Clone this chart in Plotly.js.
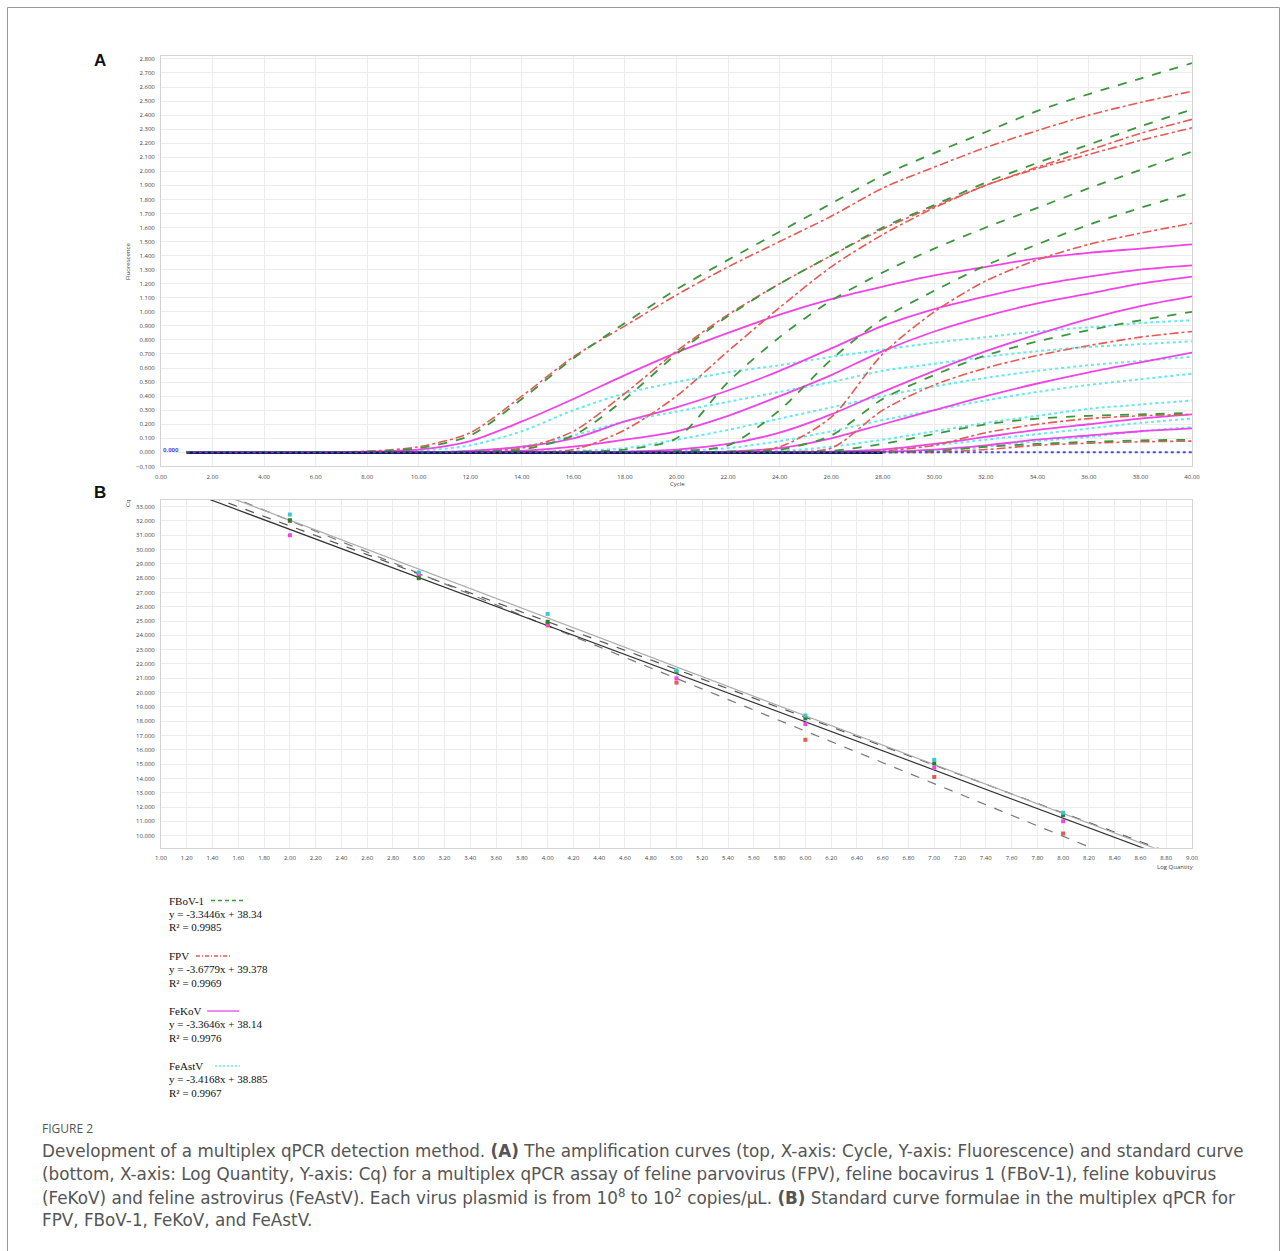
<!DOCTYPE html>
<html><head><meta charset="utf-8">
<script src="https://cdn.plot.ly/plotly-3.0.1.min.js"></script>
<style>html,body{margin:0;padding:0;background:#fff}#chart{width:1287px;height:1251px}</style>
</head><body><div id="chart"></div>
<script>
// ---------- Panel A: amplification curves ----------
const cycles = [1,4,8,10,12,14,16,18,20,22,24,26,28,30,32,34,36,38,40];

const fbovCurves = [
  [0,0,0.005,0.03,0.12,0.38,0.67,0.92,1.16,1.37,1.57,1.77,1.97,2.13,2.28,2.43,2.55,2.66,2.77],
  [0,0,0,0,0.005,0.02,0.12,0.38,0.70,0.97,1.20,1.40,1.60,1.76,1.92,2.06,2.19,2.32,2.44],
  [0,0,0,0,0,0,0.005,0.02,0.10,0.50,0.82,1.08,1.28,1.45,1.60,1.74,1.88,2.01,2.14],
  [0,0,0,0,0,0,0,0,0.01,0.05,0.30,0.66,0.95,1.15,1.33,1.48,1.62,1.74,1.85],
  [0,0,0,0,0,0,0,0,0,0.005,0.02,0.12,0.38,0.55,0.69,0.79,0.87,0.94,1.00],
  [0,0,0,0,0,0,0,0,0,0,0,0.01,0.06,0.13,0.20,0.24,0.26,0.27,0.28],
  [0,0,0,0,0,0,0,0,0,0,0,0,0,0.01,0.04,0.06,0.075,0.085,0.09]
];
const fpvCurves = [
  [0,0,0.008,0.04,0.14,0.40,0.68,0.90,1.12,1.32,1.50,1.68,1.88,2.03,2.17,2.29,2.40,2.49,2.57],
  [0,0,0,0,0.005,0.03,0.15,0.42,0.72,0.98,1.20,1.40,1.59,1.75,1.90,2.03,2.15,2.27,2.37],
  [0,0,0,0,0,0.005,0.02,0.16,0.40,0.72,1.03,1.32,1.55,1.74,1.90,2.02,2.12,2.22,2.31],
  [0,0,0,0,0,0,0,0,0,0.005,0.04,0.25,0.70,1.00,1.22,1.37,1.48,1.56,1.63],
  [0,0,0,0,0,0,0,0,0,0,0.005,0.03,0.30,0.48,0.60,0.69,0.76,0.82,0.86],
  [0,0,0,0,0,0,0,0,0,0,0,0,0.01,0.05,0.14,0.20,0.24,0.26,0.27],
  [0,0,0,0,0,0,0,0,0,0,0,0,0,0,0.02,0.05,0.065,0.075,0.08]
];
const fekovCurves = [
  [0,0,0.005,0.02,0.08,0.22,0.38,0.55,0.71,0.85,0.98,1.09,1.18,1.26,1.32,1.38,1.42,1.45,1.48],
  [0,0,0,0,0.01,0.04,0.10,0.22,0.32,0.44,0.58,0.74,0.90,1.02,1.11,1.19,1.25,1.30,1.33],
  [0,0,0,0,0,0.01,0.04,0.09,0.15,0.26,0.40,0.55,0.72,0.86,0.97,1.06,1.13,1.20,1.25],
  [0,0,0,0,0,0,0,0.005,0.02,0.06,0.14,0.27,0.43,0.58,0.72,0.84,0.95,1.04,1.11],
  [0,0,0,0,0,0,0,0,0,0.005,0.03,0.10,0.20,0.30,0.40,0.49,0.57,0.64,0.71],
  [0,0,0,0,0,0,0,0,0,0,0,0.005,0.02,0.06,0.11,0.16,0.20,0.24,0.27],
  [0,0,0,0,0,0,0,0,0,0,0,0,0.005,0.02,0.05,0.09,0.12,0.15,0.17]
];
const feastvCurves = [
  [0,0,0,0.01,0.05,0.15,0.30,0.42,0.50,0.57,0.62,0.68,0.73,0.78,0.82,0.86,0.89,0.92,0.94],
  [0,0,0,0,0.01,0.04,0.12,0.22,0.29,0.36,0.43,0.50,0.58,0.63,0.68,0.72,0.75,0.77,0.79],
  [0,0,0,0,0,0.005,0.01,0.03,0.09,0.16,0.24,0.32,0.40,0.47,0.53,0.58,0.62,0.65,0.68],
  [0,0,0,0,0,0,0,0.005,0.01,0.03,0.08,0.15,0.23,0.30,0.37,0.43,0.48,0.52,0.56],
  [0,0,0,0,0,0,0,0,0,0.005,0.01,0.04,0.09,0.15,0.21,0.26,0.31,0.34,0.37],
  [0,0,0,0,0,0,0,0,0,0,0,0.005,0.02,0.05,0.09,0.13,0.17,0.21,0.24],
  [0,0,0,0,0,0,0,0,0,0,0,0,0.005,0.01,0.04,0.08,0.11,0.15,0.18]
];
const thresholdCycles = [1,40];
const thresholdValues = [0,0];
const ntcCycles = [1,28];
const ntcValues = [-0.003,-0.003];

// ---------- Panel B: standard curves ----------
const logQty = [2,3,4,5,6,7,8];
const fbovCq  = [32.05,28.00,24.95,21.45,18.20,15.05,11.45];
const fpvCq   = [32.00,28.20,24.70,20.70,16.70,14.10,10.15];
const fekovCq = [31.00,28.30,24.80,21.00,17.80,14.75,11.00];
const feastvCq= [32.45,28.40,25.50,21.55,18.40,15.30,11.60];
const viruses = ['FBoV-1','FPV','FeKoV','FeAstV'];
const slopes = [-3.3446,-3.6779,-3.3646,-3.4168];
const intercepts = [38.34,39.378,38.14,38.885];
const r2 = ['0.9985','0.9969','0.9976','0.9967'];
const fitX = [1,9];

// ---------- styling ----------
const W = 1287, H = 1251;
const px = v => v / W, py = v => 1 - v / H;
const colors = {green:'#3c963c', red:'#e65a55', pink:'#f044e6', cyan:'#62eaee'};
const traces = [];

function addCurves(set, color, dash, width){
  set.forEach((ys,i)=>traces.push({
    x: cycles, y: ys, type:'scatter', mode:'lines', xaxis:'x', yaxis:'y',
    line:{color:color, dash:dash, width:width, shape:'spline', smoothing:0.8},
    hoverinfo:'skip', showlegend:false
  }));
}
addCurves(feastvCurves, colors.cyan, 'dot', 2);
addCurves(fekovCurves, colors.pink, 'solid', 1.8);
addCurves(fpvCurves, colors.red, 'dashdot', 1.6);
addCurves(fbovCurves, colors.green, 'dash', 1.8);
traces.push({x:ntcCycles, y:ntcValues, type:'scatter', mode:'lines', xaxis:'x', yaxis:'y',
  line:{color:'#1a1a40', width:2.5}, showlegend:false, hoverinfo:'skip'});
traces.push({x:thresholdCycles, y:thresholdValues, type:'scatter', mode:'lines', xaxis:'x', yaxis:'y',
  line:{color:'#4a4af0', width:2, dash:'dot'}, showlegend:false, hoverinfo:'skip'});

// fit lines
const fitStyles = [
  {color:'#555', dash:'dash', width:1.2},
  {color:'#777', dash:'dash', width:1.2},
  {color:'#333', dash:'solid', width:1.2},
  {color:'#aaa', dash:'solid', width:1.2}
];
slopes.forEach((s,i)=>traces.push({
  x: fitX, y: fitX.map(v=>s*v+intercepts[i]), type:'scatter', mode:'lines',
  xaxis:'x2', yaxis:'y2', line:fitStyles[i], showlegend:false, hoverinfo:'skip'
}));
[[fpvCq,colors.red],[fekovCq,colors.pink],[fbovCq,'#2d7d2d'],[feastvCq,'#3cc8cc']].forEach(([cq,c])=>traces.push({
  x: logQty, y: cq, type:'scatter', mode:'markers', xaxis:'x2', yaxis:'y2',
  marker:{color:c, size:4, symbol:'square'}, showlegend:false, hoverinfo:'skip'
}));

const tickFont = {family:'Open Sans, sans-serif', size:6, color:'#444'};
const axBase = {showgrid:true, gridcolor:'#ececec', gridwidth:1, zeroline:false,
  showline:true, mirror:true, linecolor:'#d4d4d4', linewidth:1, ticks:'',
  tickfont:tickFont, fixedrange:true};

const annotations = [];
function txt(x,y,text,opt){
  annotations.push(Object.assign({xref:'paper', yref:'paper', x:px(x), y:py(y), text:text,
    showarrow:false, xanchor:'center', yanchor:'middle'}, opt||{}));
}
const smallFont = {family:'Open Sans, sans-serif', size:6, color:'#444'};
txt(100,60,'<b>A</b>',{font:{family:'Liberation Sans, Arial', size:17, color:'#111'}});
txt(100,492,'<b>B</b>',{font:{family:'Liberation Sans, Arial', size:17, color:'#111'}});
txt(128,262,'Fluorescence',{textangle:-90, font:smallFont});
txt(677,484,'Cycle',{font:smallFont});
txt(128,503,'Cq',{textangle:-90, font:smallFont});
txt(1175,867,'Log Quantity',{font:smallFont});
txt(171,450,'<b>0.000</b>',{font:{family:'Open Sans, sans-serif', size:6, color:'#4a4af0'}});

// legend block
const legY = [900.5, 956, 1011, 1066];
const legColors = [colors.green, colors.red, colors.pink, colors.cyan];
const legDash = ['4px,3px','4px,2px,1px,2px','solid','2px,2px'];
const legStart = [211, 196, 207, 215];
const legEnd = [244, 232, 239, 240];
const serif = {family:'Liberation Serif, Times New Roman, serif', size:11, color:'#111'};
const shapes = [];
viruses.forEach((v,i)=>{
  txt(167, legY[i], v, {xanchor:'left', font:serif});
  txt(167, legY[i]+13, 'y = ' + slopes[i] + 'x + ' + intercepts[i], {xanchor:'left', font:serif});
  txt(167, legY[i]+26.5, 'R² = ' + r2[i], {xanchor:'left', font:serif});
});
viruses.forEach((v,i)=>shapes.push({type:'line', xref:'paper', yref:'paper',
  x0:px(legStart[i]), x1:px(legEnd[i]), y0:py(legY[i]), y1:py(legY[i]),
  line:{color:legColors[i], width:1.3, dash:legDash[i]}}));

// caption
const capFont = {family:'DejaVu Sans, sans-serif', size:16.8, color:'#555'};
txt(40,1128,'FIGURE 2',{xanchor:'left', font:{family:'Open Sans, sans-serif', size:12, color:'#555'}});
const capLines = [
  'Development of a multiplex qPCR detection method. <b>(A)</b> The amplification curves (top, X-axis: Cycle, Y-axis: Fluorescence) and standard curve',
  '(bottom, X-axis: Log Quantity, Y-axis: Cq) for a multiplex qPCR assay of feline parvovirus (FPV), feline bocavirus 1 (FBoV-1), feline kobuvirus',
  '(FeKoV) and feline astrovirus (FeAstV). Each virus plasmid is from 10<sup>8</sup> to 10<sup>2</sup> copies/μL. <b>(B)</b> Standard curve formulae in the multiplex qPCR for',
  'FPV, FBoV-1, FeKoV, and FeAstV.'
];
capLines.forEach((l,i)=>txt(40, 1151+23*i, l, {xanchor:'left', font:capFont}));

// frame
shapes.push({type:'rect', xref:'paper', yref:'paper', x0:px(7.5), x1:px(1279.5), y0:py(1262), y1:py(7.5),
  line:{color:'#9a9a9a', width:1}});

const layout = {
  width:W, height:H, margin:{l:0,r:0,t:0,b:0}, paper_bgcolor:'#fff', plot_bgcolor:'#fff',
  showlegend:false,
  xaxis: Object.assign({}, axBase, {domain:[px(161), px(1192)], range:[0,40], dtick:2, tick0:0,
    tickformat:'.2f', anchor:'y', ticklabelstandoff:4}),
  yaxis: Object.assign({}, axBase, {domain:[py(466.4), py(56.1)], range:[-0.1,2.82], dtick:0.1, tick0:-0.1,
    tickformat:'.3f', anchor:'x', ticklabelstandoff:4}),
  xaxis2: Object.assign({}, axBase, {domain:[px(161), px(1192)], range:[1,9], dtick:0.2, tick0:1,
    tickformat:'.2f', anchor:'y2', ticklabelstandoff:4}),
  yaxis2: Object.assign({}, axBase, {domain:[py(847.8), py(499.5)], range:[9.15,33.5], dtick:1, tick0:10,
    tickformat:'.3f', anchor:'x2', ticklabelstandoff:4}),
  annotations: annotations, shapes: shapes
};
Plotly.newPlot('chart', traces, layout, {displayModeBar:false, staticPlot:true});
</script></body></html>
